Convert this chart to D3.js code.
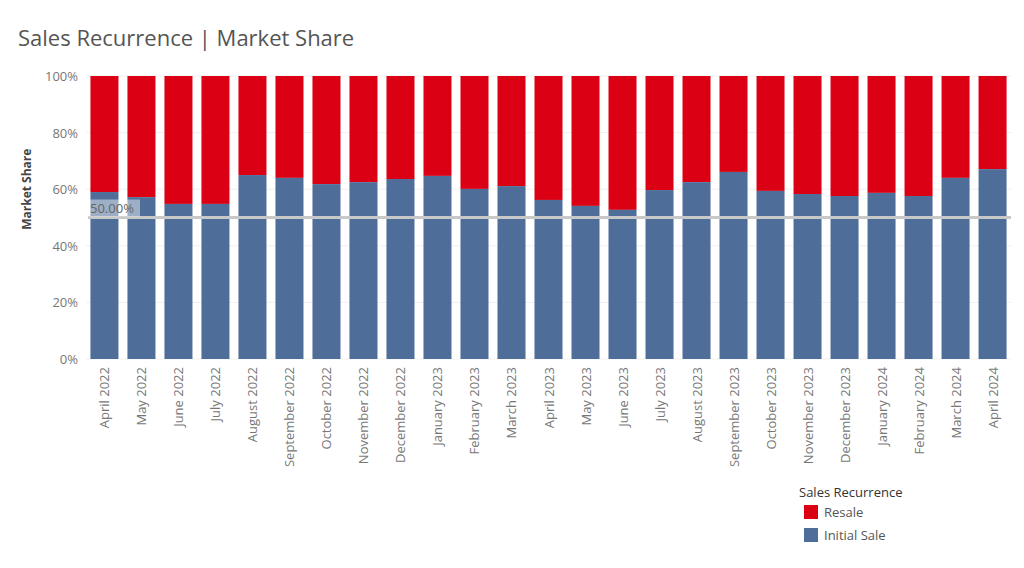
<!DOCTYPE html>
<html>
<head>
<meta charset="utf-8">
<script src="https://cdn.jsdelivr.net/npm/d3@7"></script>
<style>
  body { margin: 0; background: #fff; font-family: "Open Sans", "Noto Sans", sans-serif; }
</style>
</head>
<body>
<div id="vis"></div>
<script>
// months on the x axis
var months = ["April 2022", "May 2022", "June 2022", "July 2022", "August 2022", "September 2022",
  "October 2022", "November 2022", "December 2022", "January 2023", "February 2023", "March 2023",
  "April 2023", "May 2023", "June 2023", "July 2023", "August 2023", "September 2023",
  "October 2023", "November 2023", "December 2023", "January 2024", "February 2024", "March 2024",
  "April 2024"];

// share of initial sales (resale is the remainder)
var initialShare = [0.590, 0.572, 0.548, 0.548, 0.650, 0.640, 0.618, 0.625, 0.636, 0.647,
  0.601, 0.611, 0.562, 0.541, 0.527, 0.597, 0.625, 0.661, 0.594, 0.583, 0.576, 0.587,
  0.576, 0.640, 0.671];

var yTicks = [0, 0.2, 0.4, 0.6, 0.8, 1.0];
var refValue = 0.5;

var width = 1024, height = 568;
var margin = { top: 76, left: 86, bottom: 209, right: 13 };
var colors = { initial: "#4e6d99", resale: "#dc0014" };

var svg = d3.select("#vis").append("svg")
  .attr("width", width)
  .attr("height", height);

svg.append("text")
  .attr("x", 18).attr("y", 46)
  .style("font-size", "22px")
  .style("fill", "#555")
  .text("Sales Recurrence | Market Share");

var x = d3.scaleBand()
  .domain(months)
  .range([margin.left, width - margin.right])
  .paddingInner(0.243)
  .paddingOuter(0.12);

var y = d3.scaleLinear()
  .domain([0, 1])
  .range([height - margin.bottom, margin.top]);

// gridlines
svg.append("g").selectAll("line")
  .data(yTicks)
  .enter().append("line")
  .attr("x1", margin.left).attr("x2", width - margin.right)
  .attr("y1", function (d) { return y(d); })
  .attr("y2", function (d) { return y(d); })
  .style("stroke", "#f0f0f0");

// y axis labels
svg.append("g").selectAll("text")
  .data(yTicks)
  .enter().append("text")
  .attr("x", 78)
  .attr("y", function (d) { return y(d) + 5; })
  .attr("text-anchor", "end")
  .style("font-size", "13px")
  .style("fill", "#777")
  .text(function (d) { return d3.format(".0%")(d); });

svg.append("text")
  .attr("transform", "translate(31," + y(0.6) + ") rotate(-90)")
  .attr("text-anchor", "middle")
  .style("font-size", "12px")
  .style("font-weight", "bold")
  .style("fill", "#444")
  .text("Market Share");

// resale (top part)
svg.append("g").selectAll("rect")
  .data(months)
  .enter().append("rect")
  .attr("x", function (d) { return x(d); })
  .attr("width", x.bandwidth())
  .attr("y", y(1))
  .attr("height", function (d, i) { return y(initialShare[i]) - y(1); })
  .style("fill", colors.resale);

// initial sale (bottom part)
svg.append("g").selectAll("rect")
  .data(months)
  .enter().append("rect")
  .attr("x", function (d) { return x(d); })
  .attr("width", x.bandwidth())
  .attr("y", function (d, i) { return y(initialShare[i]); })
  .attr("height", function (d, i) { return y(0) - y(initialShare[i]); })
  .style("fill", colors.initial);

// x axis labels
svg.append("g").selectAll("text")
  .data(months)
  .enter().append("text")
  .attr("transform", function (d) {
    return "translate(" + (x(d) + x.bandwidth() / 2 + 5) + "," + (y(0) + 8) + ") rotate(-90)";
  })
  .attr("text-anchor", "end")
  .style("font-size", "13px")
  .style("fill", "#777")
  .text(function (d) { return d; });

// reference line
svg.append("line")
  .attr("x1", margin.left + 2).attr("x2", width - margin.right)
  .attr("y1", y(refValue)).attr("y2", y(refValue))
  .style("stroke", "#c8c8c8")
  .style("stroke-width", 3);

svg.append("rect")
  .attr("x", 88).attr("y", y(refValue) - 18)
  .attr("width", 52).attr("height", 17)
  .style("fill", "#fff")
  .style("opacity", 0.45);

svg.append("text")
  .attr("x", 90).attr("y", y(refValue) - 5)
  .style("font-size", "13px")
  .style("fill", "#666")
  .text(d3.format(".2%")(refValue));

// legend
var legend = svg.append("g").attr("transform", "translate(799,497)");
legend.append("text")
  .style("font-size", "13px")
  .style("fill", "#333")
  .text("Sales Recurrence");
var items = [["Resale", colors.resale], ["Initial Sale", colors.initial]];
legend.selectAll("g.item")
  .data(items)
  .enter().append("g")
  .attr("class", "item")
  .attr("transform", function (d, i) { return "translate(5," + (8 + i * 23) + ")"; })
  .each(function (d) {
    var g = d3.select(this);
    g.append("rect").attr("width", 14).attr("height", 14).style("fill", d[1]);
    g.append("text").attr("x", 20).attr("y", 12)
      .style("font-size", "13px").style("fill", "#555").text(d[0]);
  });
</script>
</body>
</html>
